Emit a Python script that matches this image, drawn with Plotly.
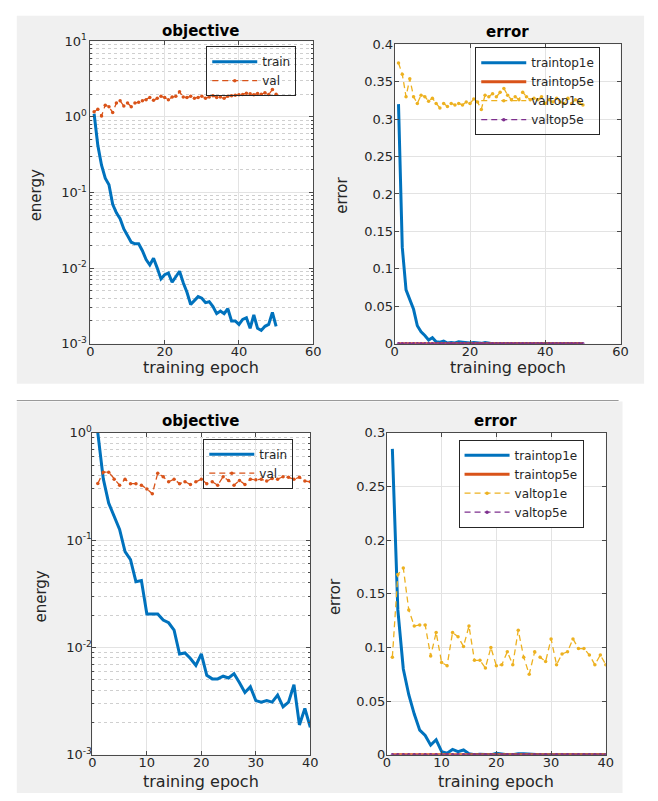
import plotly.graph_objects as go

W, H = 658, 801

# ---------------- data ----------------
# Top figure (50 epochs)
top_epochs = list(range(1, 51))
top_train_energy = [1.1, 0.42, 0.23, 0.155, 0.127, 0.07, 0.054, 0.045, 0.033, 0.027,
                    0.022, 0.021, 0.021, 0.017, 0.013, 0.011, 0.0135, 0.010, 0.0072, 0.0082,
                    0.0086, 0.0065, 0.0078, 0.0091, 0.0064, 0.0048, 0.0033, 0.0037, 0.0042, 0.0040,
                    0.0035, 0.0036, 0.0031, 0.0025, 0.0027, 0.0025, 0.0029, 0.0020, 0.0020, 0.0018,
                    0.0021, 0.0022, 0.0016, 0.0024, 0.0016, 0.0015, 0.0017, 0.0018, 0.0026, 0.0017]
top_val_energy = [1.17, 1.26, 1.03, 1.43, 1.36, 1.14, 1.53, 1.63, 1.39, 1.53,
                  1.36, 1.53, 1.56, 1.63, 1.69, 1.80, 1.66, 1.77, 1.87, 1.80,
                  1.69, 1.83, 1.87, 2.15, 1.83, 1.80, 1.87, 1.77, 1.80, 1.87,
                  1.77, 1.83, 1.91, 1.80, 1.83, 1.77, 1.87, 1.91, 1.93, 1.96,
                  1.98, 2.06, 2.02, 1.96, 2.04, 2.00, 2.08, 1.98, 2.30, 2.00]
top_train_top1e = [0.32, 0.129, 0.072, 0.059, 0.046, 0.024, 0.016, 0.011, 0.005, 0.008,
                   0.0026, 0.002, 0.0035, 0.001, 0.0015, 0.001, 0.0026, 0.002, 0.001, 0.001,
                   0.0015, 0.001, 0.0005, 0.0015, 0.0005, 0.0, 0.0, 0.0, 0.0005, 0.0,
                   0.0, 0.0, 0.0, 0.0, 0.0, 0.0, 0.0, 0.0, 0.0, 0.0,
                   0.0, 0.0, 0.0, 0.0, 0.0, 0.0, 0.0, 0.0, 0.0005, 0.0]
top_train_top5e = [0.0] * 50
top_val_top1e = [0.375, 0.36, 0.33, 0.354, 0.33, 0.321, 0.332, 0.33, 0.324, 0.328,
                 0.321, 0.315, 0.321, 0.317, 0.321, 0.319, 0.321, 0.319, 0.323, 0.321,
                 0.327, 0.323, 0.313, 0.332, 0.330, 0.334, 0.330, 0.336, 0.341, 0.332,
                 0.326, 0.330, 0.326, 0.336, 0.330, 0.326, 0.328, 0.326, 0.330, 0.321,
                 0.326, 0.323, 0.328, 0.323, 0.321, 0.328, 0.321, 0.326, 0.323, 0.319]
top_val_top5e = [0.0] * 50

# Bottom figure (40 epochs)
bot_epochs = list(range(1, 41))
bot_train_energy = [1.0, 0.374, 0.221, 0.167, 0.126, 0.078, 0.066, 0.041, 0.042, 0.0205,
                    0.0205, 0.0205, 0.018, 0.017, 0.0145, 0.0087, 0.0089, 0.0079, 0.0068, 0.0087,
                    0.0055, 0.0051, 0.0051, 0.0054, 0.0052, 0.0057, 0.0047, 0.0038, 0.0043, 0.0032,
                    0.0031, 0.0032, 0.0031, 0.0036, 0.0028, 0.0031, 0.0045, 0.0019, 0.0027, 0.0018]
bot_val_energy = [0.337, 0.43, 0.43, 0.37, 0.325, 0.37, 0.336, 0.336, 0.325, 0.30,
                  0.27, 0.42, 0.39, 0.35, 0.37, 0.336, 0.35, 0.33, 0.35, 0.37,
                  0.336, 0.35, 0.325, 0.39, 0.36, 0.325, 0.36, 0.33, 0.37, 0.365,
                  0.37, 0.355, 0.375, 0.37, 0.39, 0.385, 0.37, 0.385, 0.355, 0.35]
bot_train_top1e = [0.285, 0.135, 0.08, 0.056, 0.038, 0.023, 0.018, 0.009, 0.014, 0.003,
                   0.0015, 0.005, 0.003, 0.0045, 0.001, 0.0, 0.0005, 0.0005, 0.0, 0.0015,
                   0.0005, 0.0, 0.0, 0.001, 0.001, 0.0005, 0.0, 0.0, 0.0, 0.0,
                   0.0, 0.0, 0.0, 0.0005, 0.0005, 0.0, 0.0005, 0.0, 0.0, 0.0]
bot_train_top5e = [0.0] * 40
bot_val_top1e = [0.091, 0.168, 0.174, 0.135, 0.12, 0.121, 0.121, 0.092, 0.114, 0.086,
                 0.083, 0.114, 0.11, 0.101, 0.12, 0.088, 0.088, 0.081, 0.10, 0.083,
                 0.084, 0.096, 0.084, 0.116, 0.091, 0.075, 0.096, 0.091, 0.087, 0.108,
                 0.084, 0.094, 0.096, 0.108, 0.099, 0.099, 0.093, 0.084, 0.093, 0.084]
bot_val_top5e = [0.0] * 40

# tick labels
top_energy_ticks = [1e-3, 1e-2, 1e-1, 1e0, 1e1]
top_energy_ticktext = ["10<sup>-3</sup>", "10<sup>-2</sup>", "10<sup>-1</sup>", "10<sup>0</sup>", "10<sup>1</sup>"]
bot_energy_ticks = [1e-3, 1e-2, 1e-1, 1e0]
bot_energy_ticktext = ["10<sup>-3</sup>", "10<sup>-2</sup>", "10<sup>-1</sup>", "10<sup>0</sup>"]
top_err_ticks = [0, 0.05, 0.1, 0.15, 0.2, 0.25, 0.3, 0.35, 0.4]
top_err_ticktext = ["0", "0.05", "0.1", "0.15", "0.2", "0.25", "0.3", "0.35", "0.4"]
bot_err_ticks = [0, 0.05, 0.1, 0.15, 0.2, 0.25, 0.3]
bot_err_ticktext = ["0", "0.05", "0.1", "0.15", "0.2", "0.25", "0.3"]

# ---------------- styling ----------------
BLUE = "#0072BD"
ORANGE = "#D95319"
YELLOW = "#EDB120"
PURPLE = "#7E2F8E"
FONT = "DejaVu Sans"
TXT = "#262626"
GRID = "#e3e3e3"
MINOR = "#cfcfcf"
AXLINE = "#4a4a4a"


def px(x):
    return x / W


def py(y):
    return 1 - y / H


# plot-area boxes in pixels (left, right, top, bottom)
TL = (88, 315, 33, 342)
TR = (398, 628, 36, 342)
BL = (90, 312, 433, 762)
BR = (390, 613, 433, 762)

fig = go.Figure()

# background panels (MATLAB figure gray)
fig.add_shape(type="rect", xref="paper", yref="paper", x0=px(13), x1=px(652), y0=py(383), y1=py(7),
              fillcolor="#f0f0f0", line=dict(width=0), layer="below")
fig.add_shape(type="rect", xref="paper", yref="paper", x0=px(13), x1=px(630), y0=py(801), y1=py(401),
              fillcolor="#f0f0f0", line=dict(width=0), layer="below")
for (l, r, t, b) in (TL, TR, BL, BR):
    fig.add_shape(type="rect", xref="paper", yref="paper", x0=px(l), x1=px(r), y0=py(b), y1=py(t),
                  fillcolor="white", line=dict(width=0), layer="below")
fig.add_shape(type="line", xref="paper", yref="paper", x0=px(13), x1=px(626), y0=py(400), y1=py(400),
              line=dict(color="#9a9a9a", width=1))


def solid(x, y, name, color, xa, ya, legend):
    return go.Scatter(x=x, y=y, name=name, mode="lines", line=dict(color=color, width=3),
                      xaxis=xa, yaxis=ya, legend=legend)


def dashed(x, y, name, color, xa, ya, legend, width=1.3):
    return go.Scatter(x=x, y=y, name=name, mode="lines+markers",
                      line=dict(color=color, width=width, dash="6px,4px"),
                      marker=dict(color=color, size=3.5, symbol="circle"),
                      xaxis=xa, yaxis=ya, legend=legend)


# Top-left: objective
fig.add_trace(solid(top_epochs, top_train_energy, "train", BLUE, "x", "y", "legend"))
fig.add_trace(dashed(top_epochs, top_val_energy, "val", ORANGE, "x", "y", "legend"))
# Top-right: error
fig.add_trace(solid(top_epochs, top_train_top1e, "traintop1e", BLUE, "x2", "y2", "legend2"))
fig.add_trace(solid(top_epochs, top_train_top5e, "traintop5e", ORANGE, "x2", "y2", "legend2"))
fig.add_trace(dashed(top_epochs, top_val_top1e, "valtop1e", YELLOW, "x2", "y2", "legend2"))
fig.add_trace(dashed(top_epochs, top_val_top5e, "valtop5e", PURPLE, "x2", "y2", "legend2"))
# Bottom-left: objective
fig.add_trace(solid(bot_epochs, bot_train_energy, "train", BLUE, "x3", "y3", "legend3"))
fig.add_trace(dashed(bot_epochs, bot_val_energy, "val", ORANGE, "x3", "y3", "legend3"))
# Bottom-right: error
fig.add_trace(solid(bot_epochs, bot_train_top1e, "traintop1e", BLUE, "x4", "y4", "legend4"))
fig.add_trace(solid(bot_epochs, bot_train_top5e, "traintop5e", ORANGE, "x4", "y4", "legend4"))
fig.add_trace(dashed(bot_epochs, bot_val_top1e, "valtop1e", YELLOW, "x4", "y4", "legend4"))
fig.add_trace(dashed(bot_epochs, bot_val_top5e, "valtop5e", PURPLE, "x4", "y4", "legend4"))

common_ax = dict(showline=True, linecolor=AXLINE, linewidth=1, mirror="ticks", ticks="inside",
                 ticklen=4, tickcolor=AXLINE, showgrid=True, gridcolor=GRID, gridwidth=1,
                 zeroline=False, tickfont=dict(family=FONT, size=13, color=TXT))

x_top = dict(common_ax, range=[0, 60], tickvals=[0, 20, 40, 60], ticktext=["0", "20", "40", "60"],
             ticklabelstandoff=-4)
x_bot = dict(common_ax, range=[0, 40], tickvals=[0, 10, 20, 30, 40], ticktext=["0", "10", "20", "30", "40"],
             ticklabelstandoff=-4)
log_minor = dict(showgrid=True, gridcolor=MINOR, griddash="dot", ticks="inside", ticklen=2,
                 tickcolor=AXLINE, dtick="D1")

fig.update_layout(
    width=W, height=H, autosize=False,
    margin=dict(l=0, r=0, t=0, b=0),
    paper_bgcolor="white", plot_bgcolor="white",
    font=dict(family=FONT, color=TXT),
    xaxis=dict(x_top, domain=[px(TL[0]), px(TL[1])], anchor="y"),
    yaxis=dict(common_ax, type="log", range=[-3, 1], tickvals=top_energy_ticks,
               ticktext=top_energy_ticktext, domain=[py(TL[3]), py(TL[2])], anchor="x", minor=log_minor),
    xaxis2=dict(x_top, domain=[px(TR[0]), px(TR[1])], anchor="y2"),
    yaxis2=dict(common_ax, range=[0, 0.4], tickvals=top_err_ticks, ticktext=top_err_ticktext,
                domain=[py(TR[3]), py(TR[2])], anchor="x2", ticklabelstandoff=-2),
    xaxis3=dict(x_bot, domain=[px(BL[0]), px(BL[1])], anchor="y3"),
    yaxis3=dict(common_ax, type="log", range=[-3, 0], tickvals=bot_energy_ticks,
                ticktext=bot_energy_ticktext, domain=[py(BL[3]), py(BL[2])], anchor="x3", minor=log_minor,
                ticklabelstandoff=-3),
    xaxis4=dict(x_bot, domain=[px(BR[0]), px(BR[1])], anchor="y4"),
    yaxis4=dict(common_ax, range=[0, 0.3], tickvals=bot_err_ticks, ticktext=bot_err_ticktext,
                domain=[py(BR[3]), py(BR[2])], anchor="x4", ticklabelstandoff=-2),
)

leg_common = dict(bgcolor="rgba(255,255,255,0)", bordercolor="#262626", borderwidth=1,
                  font=dict(family=FONT, size=12, color=TXT), xanchor="left", yanchor="top",
                  itemwidth=45, tracegroupgap=0)
fig.update_layout(
    legend=dict(leg_common, x=px(206), y=py(38)),
    legend2=dict(leg_common, x=px(480), y=py(39)),
    legend3=dict(leg_common, x=px(203), y=py(439)),
    legend4=dict(leg_common, x=px(463), y=py(440), bgcolor="white"),
)


# titles & axis labels
def ann(x, y, text, size=15, bold=False, angle=0):
    t = f"<b>{text}</b>" if bold else text
    fig.add_annotation(xref="paper", yref="paper", x=px(x), y=py(y), text=t, showarrow=False,
                       textangle=angle, xanchor="center", yanchor="middle",
                       font=dict(family=FONT, size=size, color="black" if bold else TXT))


ann(201, 22, "objective", 15, True)
ann(513, 23, "error", 15, True)
ann(201, 421, "objective", 15, True)
ann(501, 421, "error", 15, True)

ann(201, 366, "training epoch", 16)
ann(513, 366, "training epoch", 16)
ann(201, 789, "training epoch", 16)
ann(501, 789, "training epoch", 16)

ann(33, 190, "energy", 15, angle=-90)
ann(344, 190, "error", 15, angle=-90)
ann(38, 600, "energy", 15, angle=-90)
ann(337, 600, "error", 15, angle=-90)

fig.write_html("out.html", config={"displayModeBar": False},
               post_script="document.body.style.margin='0px';")
